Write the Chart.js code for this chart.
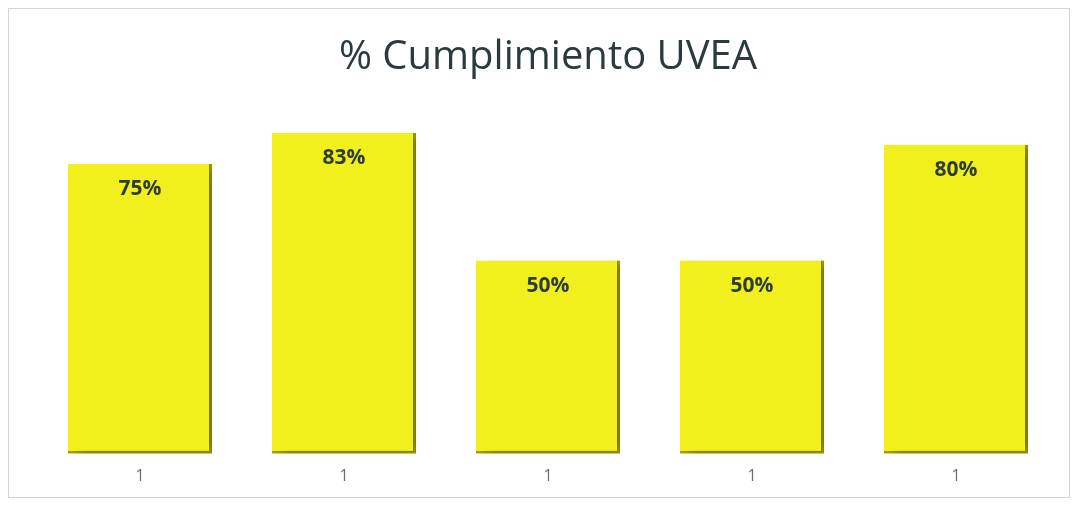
<!DOCTYPE html>
<html>
<head>
<meta charset="utf-8">
<script src="https://cdn.jsdelivr.net/npm/chart.js@4/dist/chart.umd.min.js"></script>
<style>
  html, body { margin: 0; padding: 0; background: #ffffff; }
  #wrap { position: relative; width: 1080px; height: 508px; }
  #frame { position: absolute; left: 8px; top: 8px; width: 1062px; height: 490px; border: 1px solid #d4d4d4; box-sizing: border-box; pointer-events: none; }
  canvas { display: block; }
</style>
</head>
<body>
<div id="wrap">
  <canvas id="c" width="1080" height="508"></canvas>
  <div id="frame"></div>
</div>
<script>
const categories = ["1", "1", "1", "1", "1"];
const values = [75, 83, 50, 50, 80];
const chartTitle = "% Cumplimiento UVEA";

const shadowPlugin = {
  id: 'barShadow',
  beforeDatasetsDraw(chart) {
    const ctx = chart.ctx;
    ctx.save();
    ctx.shadowColor = 'rgba(0,0,0,0.30)';
    ctx.shadowBlur = 12;
    ctx.shadowOffsetX = 8;
    ctx.shadowOffsetY = 2;
  },
  afterDatasetsDraw(chart) {
    const ctx = chart.ctx;
    ctx.restore();
    const meta = chart.getDatasetMeta(0);
    ctx.save();
    ctx.font = 'bold 21px "Open Sans", sans-serif';
    ctx.fillStyle = '#2e3d3c';
    ctx.textAlign = 'center';
    ctx.textBaseline = 'middle';
    meta.data.forEach((bar, i) => {
      ctx.fillText(values[i] + '%', bar.x, bar.y + 25);
    });
    ctx.restore();
  }
};

new Chart(document.getElementById('c'), {
  type: 'bar',
  data: {
    labels: categories,
    datasets: [{
      data: values,
      backgroundColor: '#f1f01c',
      borderColor: '#a9a800',
      borderWidth: { top: 0, left: 0, right: 3, bottom: 3 },
      borderSkipped: false,
      categoryPercentage: 1,
      barPercentage: 0.706
    }]
  },
  options: {
    responsive: false,
    animation: false,
    layout: { padding: { left: 38, right: 22, top: 0, bottom: 17 } },
    plugins: {
      legend: { display: false },
      tooltip: { enabled: false },
      title: {
        display: true,
        text: chartTitle,
        color: '#2b3a3e',
        font: { family: '"Open Sans", sans-serif', size: 40, weight: 'normal' },
        padding: { top: 34, bottom: 19 }
      }
    },
    scales: {
      x: {
        grid: { display: false },
        border: { display: false },
        ticks: { color: '#6e6e6e', font: { family: '"Open Sans", sans-serif', size: 16 }, padding: 5 }
      },
      y: {
        display: false,
        min: 0,
        max: 91.3
      }
    }
  },
  plugins: [shadowPlugin]
});
</script>
</body>
</html>
